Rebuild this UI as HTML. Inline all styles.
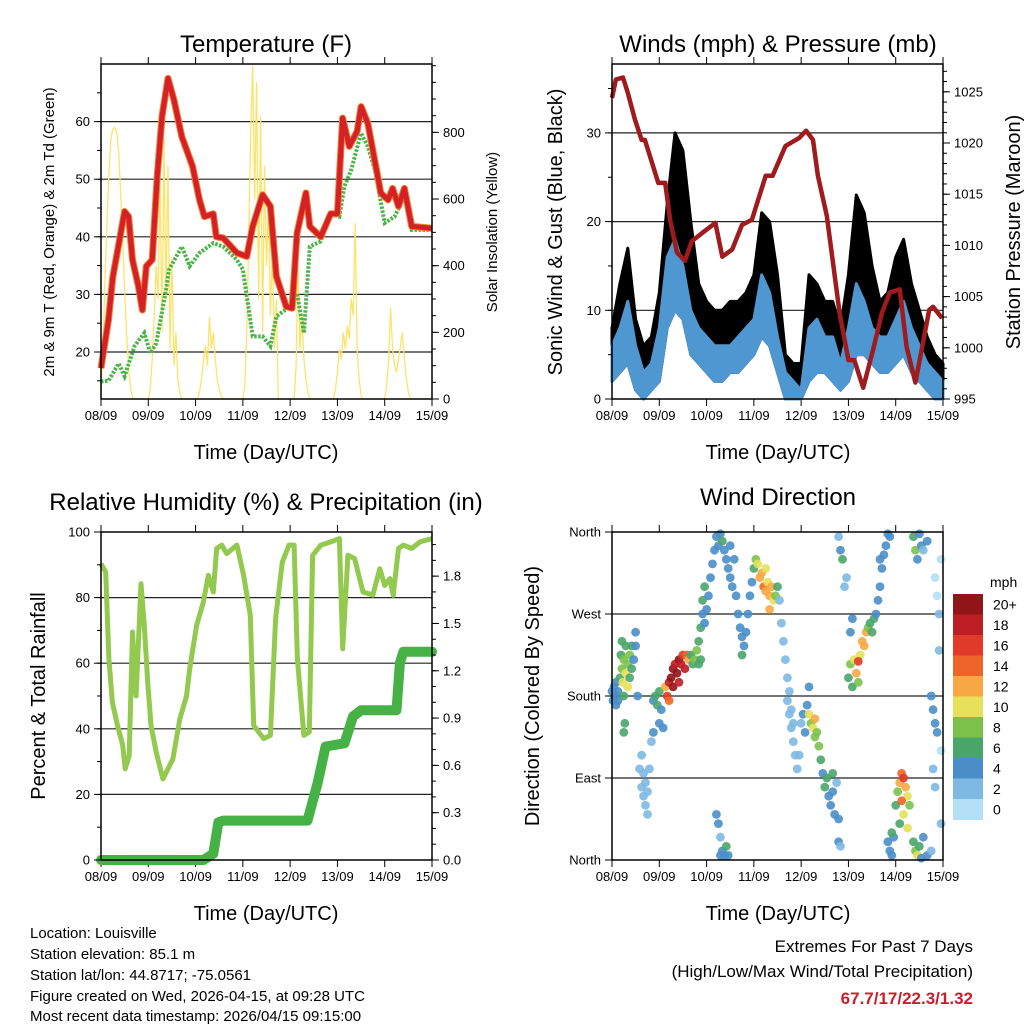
<!DOCTYPE html>
<html><head><meta charset="utf-8">
<style>
body{margin:0;background:#fff;}
svg{display:block;font-family:"Liberation Sans",sans-serif;}
</style></head>
<body>
<svg id="c" width="1024" height="1024" viewBox="0 0 1024 1024" xmlns="http://www.w3.org/2000/svg">
<rect width="1024" height="1024" fill="#fff"/>
<g id="g1"></g>
<g id="g2"></g>
<g id="g3"></g>
<g id="g4"></g>
<text x="266" y="52" font-size="24" text-anchor="middle">Temperature (F)</text>
<text x="778" y="52" font-size="24" text-anchor="middle">Winds (mph) &amp; Pressure (mb)</text>
<text x="266" y="510" font-size="24" text-anchor="middle">Relative Humidity (%) &amp; Precipitation (in)</text>
<text x="778" y="505" font-size="24" text-anchor="middle">Wind Direction</text>
<text x="266" y="459" font-size="20" text-anchor="middle">Time (Day/UTC)</text>
<text x="778" y="459" font-size="20" text-anchor="middle">Time (Day/UTC)</text>
<text x="266" y="920" font-size="20" text-anchor="middle">Time (Day/UTC)</text>
<text x="778" y="920" font-size="20" text-anchor="middle">Time (Day/UTC)</text>
<text transform="translate(54,232) rotate(-90)" font-size="15" text-anchor="middle">2m &amp; 9m T (Red, Orange) &amp; 2m Td (Green)</text>
<text transform="translate(497,232) rotate(-90)" font-size="15" text-anchor="middle">Solar Insolation (Yellow)</text>
<text transform="translate(562,232) rotate(-90)" font-size="20" text-anchor="middle">Sonic Wind &amp; Gust (Blue, Black)</text>
<text transform="translate(1020,232) rotate(-90)" font-size="20" text-anchor="middle">Station Pressure (Maroon)</text>
<text transform="translate(45,696) rotate(-90)" font-size="20" text-anchor="middle">Percent &amp; Total Rainfall</text>
<text transform="translate(539,696) rotate(-90)" font-size="20" text-anchor="middle">Direction (Colored By Speed)</text>
<g font-size="15">
<text x="30" y="938">Location: Louisville</text>
<text x="30" y="959">Station elevation: 85.1 m</text>
<text x="30" y="980">Station lat/lon: 44.8717; -75.0561</text>
<text x="30" y="1001">Figure created on Wed, 2026-04-15, at 09:28 UTC</text>
<text x="30" y="1021">Most recent data timestamp: 2026/04/15 09:15:00</text>
</g>
<g font-size="17" text-anchor="end">
<text x="973" y="952">Extremes For Past 7 Days</text>
<text x="973" y="977">(High/Low/Max Wind/Total Precipitation)</text>
<text x="973" y="1004" font-weight="bold" fill="#c8202a">67.7/17/22.3/1.32</text>
</g>
</svg>
<script>
// ---------- data ----------
const dayLabels = ["08/09","09/09","10/09","11/09","12/09","13/09","14/09","15/09"];
const tempHours = [0,3.8,6,10,12,14,16,19,21,23,26,28.5,31,34,37,41,46.5,50,52.5,57,58.5,62,69,74,77,82,86,89,94,97,99.5,104,106,111.5,116.6,120,122.6,126,130,132,135.4,142,145.7,148,151,154,157.7,168];
const tempRed = [17.2,25.6,33,40.6,44.4,43.5,36,31.4,27.3,34.9,36,50.5,61,67.5,63.8,57.4,52.2,46.4,43.5,44,40,39.8,37.2,36.6,41.8,47.3,45.3,33.1,27.9,27.6,40.6,47.6,41.8,40,44,44,60.6,55.7,58.3,62.6,59.7,47.6,46.4,48.4,45.3,48.4,41.8,41.5];
const dewHours = [0,3.8,9,12,17,22,25,28,33,34.5,41,45,50,57,62,69,72,77,82,86,89,96,99.5,103,106,111.5,116.6,121,123.5,127,132,135.4,139,144,149,154,157.7,168];
const dewGreen = [14.9,15,18,15.8,21,23.3,19.8,21.5,30.8,34.3,38.3,34.9,37.2,38.9,38.3,36,34.3,22.7,22.7,21,26.2,27.9,30.2,23.3,38.3,39.2,44,43.5,48.7,51.6,58,55.7,51.6,42.4,43.5,47,41.2,41.2];
const solarHourly = [20,150,350,520,680,780,810,815,800,740,620,480,330,200,90,30,5,0,0,0,0,0,0,0,
0,30,120,250,400,300,650,200,780,300,700,150,420,100,200,60,20,0,0,0,0,0,0,0,
0,0,20,60,120,160,100,246,150,200,120,60,30,10,0,0,0,0,0,0,0,0,0,0,
0,40,200,500,800,1000,600,950,300,850,200,700,400,600,250,450,150,300,0,0,0,0,0,0,
0,0,0,100,400,150,250,120,60,20,0,0,0,0,0,0,0,0,0,0,0,0,0,30,
80,150,120,200,150,220,180,300,250,528,150,60,10,0,0,0,0,0,0,0,0,0,0,0,
0,40,120,273,150,100,80,120,160,200,120,60,20,0,0,0,0,0,0,0,0,0,0,0,0];
const presHours = [0,2,5.6,8,11.6,15,16.7,23.5,27,29.5,33,37,40.5,45.7,52.5,56,61,66,71,78,81.5,88,95,98.5,102,104.5,109,115.5,120,123,127.5,132.5,137,141,146,149.5,154,161,163,167.5];
const presVals = [1024.4,1026.2,1026.4,1024.9,1022.3,1020.3,1020.3,1016.1,1016.1,1012.5,1009.3,1008.5,1010.4,1011.2,1012.2,1008.9,1009.6,1012,1012.5,1016.8,1016.8,1019.7,1020.5,1021.2,1020.3,1016.8,1012.9,1003.4,998.8,998.8,996.1,999.8,1003.4,1005.4,1005.7,1000.1,996.6,1003.7,1004,1002.9];
const windHours = [0,4,8,12,16,20,24,28,32,36,40,44,48,52,56,60,64,68,72,76,80,84,88,92,96,100,104,108,112,116,120,124,128,132,136,140,144,148,152,156,160,164,168];
const windLow = [2,3,4,1,0,1,2,8,10,9,5,4,3,2,2,3,3,4,5,7,6,3,0,0,0,2,3,3,2,1,2,5,5,4,3,3,4,5,3,2,1,0,0];
const windHigh = [6,8,11,6,3,4,8,16,18,15,10,8,7,6,6,6,7,8,9,14,12,7,3,2,1,8,9,7,7,4,8,13,11,8,7,7,9,11,8,6,4,3,2];
const gustHigh = [8,13,17,9,6,7,12,22,30,28,20,13,11,10,10,11,11,12,14,21,20,14,5,4,4,14,13,11,11,8,14,23,21,15,11,12,16,18,13,10,7,5,4];
const rhHours = [0,2.4,4,5.8,8.4,11,12.3,14.3,16,17.8,20.3,22,23.7,25.4,28,31.4,36.5,40,43.4,45,48.5,51.9,54.5,57,58.7,61.3,63.8,69,72.4,75.8,77.5,82.6,86,88.6,92,95.4,98,99.7,103,105.7,107.4,111.6,116.8,121,122.7,125.3,128.7,133,138,141.5,144,146.6,148.3,151,153.5,157.7,162,168];
const rhVals = [90.3,87.8,61.3,48,41,35,27.8,31.8,69.5,50,84.2,71.5,54.2,41,32.9,24.7,30.8,43,50,58.3,71.5,78.6,86.8,81.7,95,96,93.4,96,86.8,74.6,41,37,38,73.6,90.8,96,96,61.3,38,39,92.9,96,97,98,64.4,92.9,91.9,81.7,80.8,88.8,83.7,85.8,80.7,95,96,95,97,98];
const rainHours = [0,52,57,59.6,62,104.8,110,114,123.6,127.9,132,150,151.7,153.5,168];
const rainVals = [0,0,0.04,0.24,0.25,0.25,0.49,0.72,0.74,0.91,0.95,0.95,1.25,1.32,1.32];
const dirHours = [0,0.5,1,1.5,2,2,3,3,4,4.5,5,5,5.5,6,6,6.5,7,7,8,8,9,9,10,10,11,12,12,6,13,
14,15,15,16,16,17,17,18,18,19,20,21,
21,22,23,24,25,26,24,
27,28,29,29,30,31,31,32,33,34,34,35,36,37,38,39,
40,41,42,43,44,45,
44,45,46,46,47,47,48,49,
50,51,52,53,54,55,56,57,58,59,60,61,62,60,
53,54,55,56,57,58,59,55,
63,64,65,66,67,68,69,70,71,66,
72,73,74,75,76,77,78,79,80,81,82,83,84,80,78,
85,86,87,88,89,90,91,92,
89,90,91,92,93,94,95,96,97,98,99,100,
100,101,102,103,104,105,103,
106,107,108,109,110,111,112,113,114,112,115,115,116,
115,116,117,118,119,
120,121,122,123,124,125,126,127,128,129,130,131,132,133,125,121,122,
134,135,136,137,138,139,140,141,136,
140,141,142,143,142,
144,145,146,147,148,149,150,151,146,148,150,147,
153,154,155,156,157,158,160,
153,154,155,156,157,158,160,162,
162,163,164,165,163,164,
164,165,166,167,166,167,167];
const dirDegrees = [185,175,190,180,170,195,185,175,200,225,240,210,195,220,180,150,235,205,215,190,225,200,235,210,220,250,235,140,180,
100,80,115,70,95,60,85,50,75,100,130,140,
175,180,170,185,165,145,150,
190,180,195,175,200,210,190,215,205,220,195,215,225,210,225,220,
225,215,220,230,215,220,
240,255,270,285,260,300,275,290,
310,325,340,355,345,358,350,340,330,320,310,300,330,345,
50,40,25,10,5,15,5,5,
290,270,255,245,235,250,270,290,305,225,
320,330,325,310,315,300,295,305,290,300,285,290,300,275,320,
285,260,240,220,200,185,165,150,
175,160,145,130,115,100,115,150,160,140,170,190,
160,150,145,135,140,125,155,
110,95,80,90,70,60,75,50,85,95,45,20,15,
355,340,330,300,310,
200,215,190,220,205,195,225,240,235,250,255,260,250,265,218,250,265,
270,285,300,320,335,345,358,355,330,
20,10,5,25,30,
60,75,85,95,90,80,70,60,40,50,35,65,
355,340,330,358,345,340,350,
20,10,5,15,2,25,5,10,
180,165,150,140,100,80,
310,290,270,330,230,120,40];
const dirSpeeds = [4,4,4,4,4,4,5,4,6,7,7,9,10,8,6,6,7,10,9,10,8,6,6,7,5,4,4,6,4,
2,2,2,2,2,2,2,2,2,3,3,4,
5,6,6,6,5,4,4,
12,16,18,14,20,21,22,19,22,20,18,19,16,18,14,12,
7,7,8,8,7,6,
6,7,5,6,5,6,4,5,
4,4,4,4,4,5,6,4,4,4,4,4,4,4,
4,4,3,4,4,6,4,4,
4,4,4,4,4,4,4,4,4,6,
6,9,11,12,13,15,12,10,13,12,10,9,6,12,10,
2,2,3,2,2,3,2,2,
2,2,3,2,3,2,2,3,4,4,4,4,
10,9,10,8,9,8,13,
6,5,7,6,4,4,4,4,3,6,5,4,2,
3,4,6,3,3,
6,8,7,10,12,9,11,12,13,12,8,7,6,6,16,4,4,
4,4,4,4,4,4,4,5,4,
4,4,5,4,6,
6,8,13,14,16,12,10,9,6,10,11,14,
6,8,4,4,4,3,4,
6,8,10,6,4,4,4,3,
4,4,4,4,3,2,
1,1,2,1,2,1,2];
const speedColors = ["#b3e0f7","#7eb9e3","#4a8ec8","#4aa56b","#7cc24a","#e6e05a","#f7a843","#ef6428","#e03a2a","#bd1e24","#901418"];
const speedLabels = ["0","2","4","6","8","10","12","14","16","18","20+"];
const dirLabels = ["North","East","South","West","North"];

// ---------- helpers ----------
const NS="http://www.w3.org/2000/svg";
function mk(parent,tag,attrs,text){const e=document.createElementNS(NS,tag);for(const k in attrs)e.setAttribute(k,attrs[k]);if(text!==undefined)e.textContent=text;parent.appendChild(e);return e;}
function pathFrom(xs,ys,fx,fy){let d="";for(let i=0;i<xs.length;i++){d+=(i?"L":"M")+fx(xs[i]).toFixed(1)+","+fy(ys[i]).toFixed(1);}return d;}
function bandFrom(xs,lo,hi,fx,fy){let d="";for(let i=0;i<xs.length;i++)d+=(i?"L":"M")+fx(xs[i]).toFixed(1)+","+fy(hi[i]).toFixed(1);for(let i=xs.length-1;i>=0;i--)d+="L"+fx(xs[i]).toFixed(1)+","+fy(lo[i]).toFixed(1);return d+"Z";}

function frame(g,x0,x1,y0,y1,yb){
  const fx=h=>x0+h/168*(x1-x0);
  for(let i=0;i<dayLabels.length;i++){
    const x=fx(i*24);
    const t=mk(g,"line",{x1:x,x2:x,y1:y1,y2:y1+7,stroke:"#000","stroke-width":1});
    
    
    mk(g,"line",{x1:x,x2:x,y1:y0,y2:y0-7,stroke:"#000","stroke-width":1});
    const l=mk(g,"text",{x:x,y:yb,"font-size":13,"text-anchor":"middle"},dayLabels[i]);
    
    
  }
  return fx;
}
function yTicks(g,side,x,vals,fy,labels,minors){
  const s=side==="l"?-1:1;
  for(const v of minors){const y=fy(v);mk(g,"line",{x1:x,x2:x+s*4,y1:y,y2:y,stroke:"#000","stroke-width":1});}
  vals.forEach((v,i)=>{const y=fy(v);mk(g,"line",{x1:x,x2:x+s*7,y1:y,y2:y,stroke:"#000","stroke-width":1});
    if(labels){const t=mk(g,"text",{x:x+s*11,y:y+4.5,"font-size":13,"text-anchor":side==="l"?"end":"start"},labels[i]);
    
    }});
}
function grid(g,x0,x1,ys){for(const y of ys){mk(g,"line",{x1:x0,x2:x1,y1:y,y2:y,stroke:"#222","stroke-width":1.2});}}
function box(g,x0,x1,y0,y1){const r=mk(g,"rect",{x:x0,y:y0,width:x1-x0,height:y1-y0,fill:"none",stroke:"#000","stroke-width":1.5});}
function range(a,b,s){const r=[];for(let v=a;v<=b+1e-9;v+=s)r.push(+v.toFixed(4));return r;}

// ---------- panel 1 temperature ----------
(function(){
  const g=document.getElementById("g1");const x0=101,x1=432,y0=64,y1=399;
  const fx=frame(g,x0,x1,y0,y1,420);
  const fT=t=>352-(t-20)*5.76, fS=s=>399-s*0.3333;
  grid(g,x0,x1,[20,30,40,50,60].map(fT));
  const sh=solarHourly.map((_,i)=>i);
  const ps=mk(g,"path",{d:pathFrom(sh,solarHourly,fx,fS),fill:"none",stroke:"#fde36a","stroke-width":1.3});
  
  
  const pd=mk(g,"path",{d:pathFrom(dewHours,dewGreen,fx,fT),fill:"none",stroke:"#4bb449","stroke-width":4,"stroke-dasharray":"2.5 1.5"});
  
  
  const po=mk(g,"path",{d:pathFrom(tempHours,tempRed,fx,fT),fill:"none",stroke:"#f08030","stroke-width":7,"stroke-linejoin":"round"});
  
  
  const pr=mk(g,"path",{d:pathFrom(tempHours,tempRed,fx,fT),fill:"none",stroke:"#d42027","stroke-width":5,"stroke-linejoin":"round"});
  
  
  yTicks(g,"l",x0,[20,30,40,50,60],fT,["20","30","40","50","60"],range(15,65,5));
  yTicks(g,"r",x1,[0,200,400,600,800],fS,["0","200","400","600","800"],range(0,1000,50));
  box(g,x0,x1,y0,y1);
})();

// ---------- panel 2 winds ----------
(function(){
  const g=document.getElementById("g2");const x0=612,x1=943,y0=64,y1=399;
  const fx=frame(g,x0,x1,y0,y1,420);
  const fW=w=>399-w*8.87, fP=p=>399-(p-995)*10.24;
  grid(g,x0,x1,[10,20,30].map(fW));
  const pg=mk(g,"path",{d:bandFrom(windHours,windLow,gustHigh,fx,fW),fill:"#000",stroke:"#000","stroke-width":3,"stroke-linejoin":"round"});
  
  
  const pb=mk(g,"path",{d:bandFrom(windHours,windLow,windHigh,fx,fW),fill:"#4f97d0",stroke:"#4f97d0","stroke-width":3,"stroke-linejoin":"round"});
  
  
  const pp=mk(g,"path",{d:pathFrom(presHours,presVals,fx,fP),fill:"none",stroke:"#9e1b1e","stroke-width":4.5,"stroke-linejoin":"round"});
  
  
  yTicks(g,"l",x0,[0,10,20,30],fW,["0","10","20","30"],range(0,35,5));
  yTicks(g,"r",x1,[995,1000,1005,1010,1015,1020,1025],fP,["995","1000","1005","1010","1015","1020","1025"],range(995,1027,1));
  box(g,x0,x1,y0,y1);
})();

// ---------- panel 3 humidity ----------
(function(){
  const g=document.getElementById("g3");const x0=101,x1=432,y0=532,y1=860;
  const fx=frame(g,x0,x1,y0,y1,881);
  const fR=r=>860-r*3.28, fPr=p=>860-p*157.7;
  grid(g,x0,x1,[20,40,60,80].map(fR));
  const pr=mk(g,"path",{d:pathFrom(rhHours,rhVals,fx,fR),fill:"none",stroke:"#92c94e","stroke-width":5,"stroke-linejoin":"round"});
  
  
  const pp=mk(g,"path",{d:pathFrom(rainHours,rainVals,fx,fPr),fill:"none",stroke:"#46b245","stroke-width":10,"stroke-linejoin":"round","stroke-linecap":"round"});
  
  
  yTicks(g,"l",x0,[0,20,40,60,80,100],fR,["0","20","40","60","80","100"],range(0,100,10));
  yTicks(g,"r",x1,[0,0.3,0.6,0.9,1.2,1.5,1.8],fPr,["0.0","0.3","0.6","0.9","1.2","1.5","1.8"],range(0,2,0.1));
  box(g,x0,x1,y0,y1);
})();

// ---------- panel 4 wind direction ----------
(function(){
  const g=document.getElementById("g4");const x0=612,x1=943,y0=532,y1=860;
  const fx=frame(g,x0,x1,y0,y1,881);
  const fD=d=>860-d*328/360;
  grid(g,x0,x1,[90,180,270].map(fD));
  for(let i=0;i<dirHours.length;i++){
    const bin=Math.min(10,Math.floor(dirSpeeds[i]/2));
    const c=mk(g,"circle",{cx:fx(dirHours[i]).toFixed(1),cy:fD(dirDegrees[i]).toFixed(1),r:4.4,fill:speedColors[bin],"fill-opacity":0.9});
    
    
  }
  yTicks(g,"l",x0,[0,90,180,270,360],fD,dirLabels,[]);
  box(g,x0,x1,y0,y1);
  // colorbar
  const cb=mk(g,"g",{});
  
  
  const top=594,h=20.5;
  for(let i=0;i<speedColors.length;i++){
    const k=speedColors.length-1-i;
    mk(cb,"rect",{x:953,y:top+i*h,width:30,height:h+0.5,fill:speedColors[k]});
    const t=mk(cb,"text",{x:993,y:top+i*h+h/2+5,"font-size":14},speedLabels[k]);
    
    
  }
  const m=mk(cb,"text",{x:990,y:587,"font-size":14},"mph");
  
  
})();
</script>
</body></html>
